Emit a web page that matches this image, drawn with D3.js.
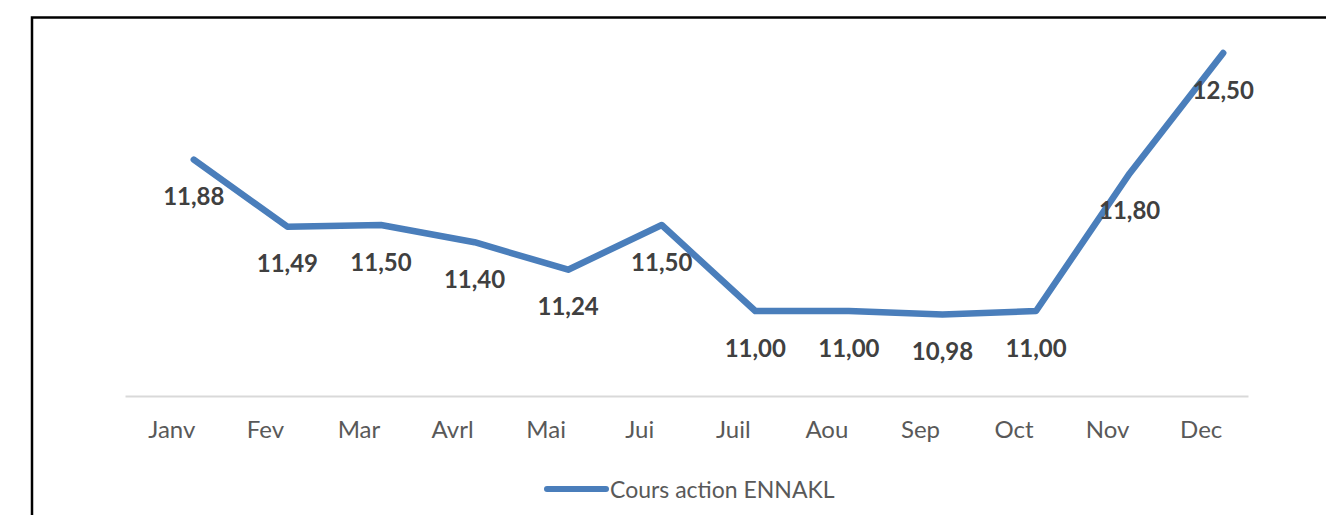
<!DOCTYPE html>
<html lang="fr">
<head>
<meta charset="UTF-8">
<title>Cours action ENNAKL</title>
<script src="https://d3js.org/d3.v7.min.js"></script>
<style>
  body { margin: 0; background: #fff; }
  text { font-family: Lato, "Open Sans", sans-serif; }
</style>
</head>
<body>
<script>
// data
var months = ["Janv", "Fev", "Mar", "Avrl", "Mai", "Jui", "Juil", "Aou", "Sep", "Oct", "Nov", "Dec"]
var cours = [11.88, 11.49, 11.50, 11.40, 11.24, 11.50, 11.00, 11.00, 10.98, 11.00, 11.80, 12.50]
var seriesName = "Cours action ENNAKL"

var width = 1326, height = 515
var blue = "#4a7ebb"

let svg = d3.select("body").append("svg")
    .attr("width", width)
    .attr("height", height)

// chart frame (cut by the window on the right and bottom)
svg.append("rect")
    .attr("x", 32).attr("y", 17.5)
    .attr("width", 1400).attr("height", 600)
    .attr("fill", "none")
    .attr("stroke", "#000")
    .attr("stroke-width", 2.5)

// scales
let x = d3.scaleBand().domain(months).range([125, 1248])
let y = d3.scaleLinear().domain([10.5, 12.5]).range([397, 53])
// the line sits a bit right of the category centres in the reference
let shift = 22
let px = (d, i) => x(months[i]) + x.bandwidth() / 2 + shift

// x axis
let xAxis = svg.append("g")
    .attr("transform", "translate(0,396)")
    .call(d3.axisBottom(x).tickSize(0).tickPadding(25))
xAxis.select(".domain").attr("stroke", "#d9d9d9").attr("stroke-width", 2)
xAxis.selectAll("text")
    .attr("fill", "#595959")
    .style("font-size", "24px")
    .style("font-family", "Lato, 'Open Sans', sans-serif")

// line
let line = d3.line()
    .x((d, i) => px(d, i))
    .y(d => y(d))

svg.append("path")
    .datum(cours)
    .attr("d", line)
    .attr("fill", "none")
    .attr("stroke", blue)
    .attr("stroke-width", 6.5)
    .attr("stroke-linejoin", "round")
    .attr("stroke-linecap", "round")

// data labels
svg.append("g").selectAll("text")
    .data(cours)
    .enter()
    .append("text")
    .attr("x", (d, i) => px(d, i))
    .attr("y", d => y(d) + 36)
    .attr("text-anchor", "middle")
    .attr("dominant-baseline", "central")
    .attr("fill", "#404040")
    .style("font-size", "24px")
    .style("font-weight", "bold")
    .text(d => d.toFixed(2).replace(".", ","))

// legend
svg.append("line")
    .attr("x1", 547).attr("x2", 606)
    .attr("y1", 489).attr("y2", 489)
    .attr("stroke", blue)
    .attr("stroke-width", 6)
    .attr("stroke-linecap", "round")
svg.append("text")
    .attr("x", 610).attr("y", 489)
    .attr("dominant-baseline", "central")
    .attr("fill", "#595959")
    .style("font-size", "23px")
    .text(seriesName)
</script>
</body>
</html>
